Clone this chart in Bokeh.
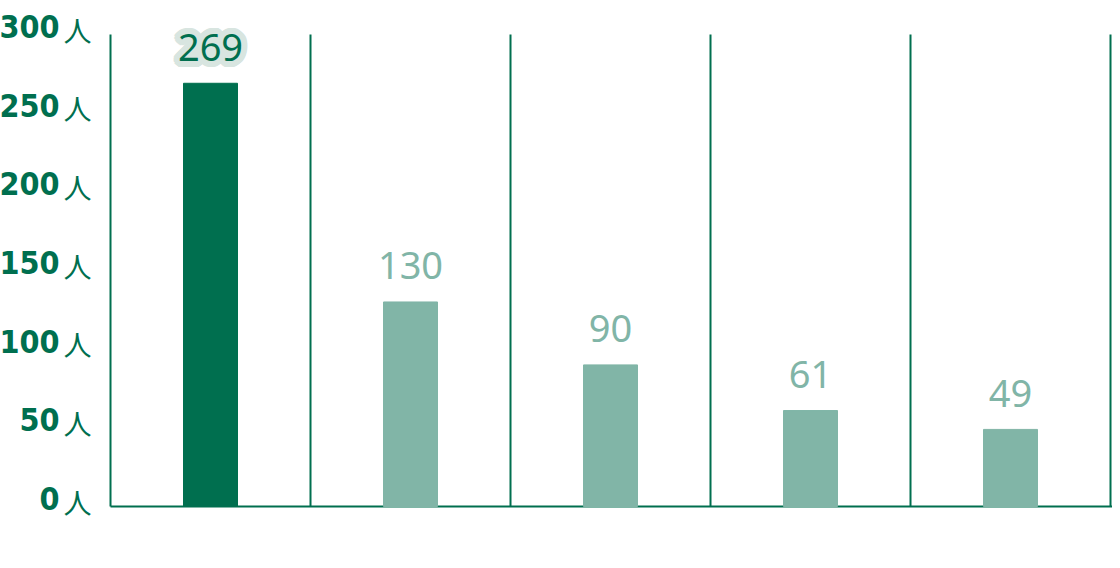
import math
from bokeh.plotting import figure
from bokeh.models import Range1d, ColumnDataSource
from bokeh.core.properties import value
from bokeh.embed import file_html
from bokeh.resources import INLINE

# ---- data ----
slots = [0, 1, 2, 3, 4]
counts = [269, 130, 90, 61, 49]
count_labels = ["269", "130", "90", "61", "49"]
tick_values = [0, 50, 100, 150, 200, 250, 300]
tick_labels = ["0", "50", "100", "150", "200", "250", "300"]
unit_label = "人"

DARK = "#006f4f"
LIGHT = "#81b5a7"
HALO = "#d8e5e0"

W, H = 1112, 560
col_px = 200.0
x0 = -110 / col_px
py = 472 / 300.0
y_bottom = -(H - 506) / py
y_top = 300 + 34 / py

p = figure(width=W, height=H, output_backend="svg", toolbar_location=None,
           x_range=Range1d(x0, x0 + W / col_px), y_range=Range1d(y_bottom, y_top),
           min_border=0, outline_line_color=None)
p.axis.visible = False
p.grid.visible = False
p.background_fill_color = "white"
p.border_fill_color = "white"

centers = [s + 0.5 for s in slots]
colors = [DARK if c == max(counts) else LIGHT for c in counts]
src = ColumnDataSource(dict(x=centers, top=counts, color=colors, label=count_labels))

# column separators and axis lines
n = len(slots)
p.segment(x0=list(range(n + 1)), y0=[0] * (n + 1), x1=list(range(n + 1)), y1=[tick_values[-1]] * (n + 1),
          line_color=DARK, line_width=2)
p.segment(x0=[0], y0=[0], x1=[n + 0.05], y1=[0], line_color=DARK, line_width=2)

p.vbar(x="x", top="top", bottom=0, width=54 / col_px, color="color", source=src)

LABEL_DY = -36
# halo for highlighted value
hi = [i for i, c in enumerate(counts) if c == max(counts)]
hx = [centers[i] for i in hi]
hy = [counts[i] for i in hi]
hl = [count_labels[i] for i in hi]
for k in range(24):
    a = 2 * math.pi * k / 24
    p.text(x=hx, y=hy, text=hl, text_font=value("Noto Sans"), text_font_size="38px",
           text_align="center", text_baseline="alphabetic", text_color=HALO,
           x_offset=6 * math.cos(a), y_offset=LABEL_DY + 6 * math.sin(a))

p.text(x="x", y="top", text="label", source=src, text_font=value("Noto Sans"),
       text_font_size="38px", text_align="center", text_baseline="alphabetic",
       text_color="color", y_offset=LABEL_DY)

# y labels
p.text(x=[0] * len(tick_values), y=tick_values, text=tick_labels,
       text_font=value("DejaVu Sans Condensed, Roboto Condensed, Liberation Sans Narrow, Roboto"),
       text_font_style="bold",
       text_font_size="32px", text_align="right", text_baseline="alphabetic",
       text_color=DARK, x_offset=-51, y_offset=-8)
p.text(x=[0] * len(tick_values), y=tick_values, text=[unit_label] * len(tick_values),
       text_font=value("Noto Sans CJK JP"), text_font_size="28px",
       text_align="left", text_baseline="alphabetic",
       text_color=DARK, x_offset=-47, y_offset=-5)

open("out.html", "w").write(file_html(p, INLINE))
